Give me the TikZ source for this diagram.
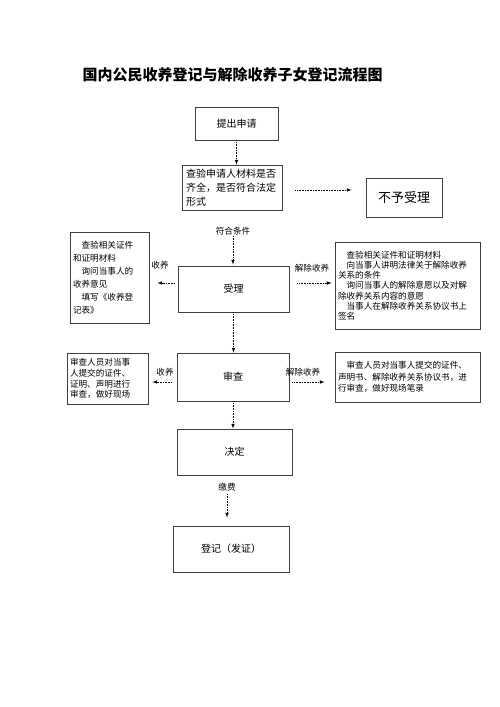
\documentclass[tikz,border=0pt]{standalone}
\usepackage{fontspec}
\newfontfamily\cjk{Noto Sans CJK SC}
\usetikzlibrary{positioning, calc}

\begin{document}
\begin{tikzpicture}[
    x=1pt, y=-1pt,
    % Define a custom style for the boxes
    mybox/.style={
        draw=black!75,
        line width=0.9pt,
        rectangle,
        font=\cjk\fontsize{10}{12}\selectfont
    },
    notebox/.style={
        mybox,
        align=left,
        inner sep=3pt,
        font=\cjk\fontsize{8.6}{10.2}\selectfont
    },
    tag/.style={font=\cjk\fontsize{8.6}{10}\selectfont, inner sep=1pt},
    flow/.style={densely dotted, line width=0.6pt, ->, >=latex}
]
\useasboundingbox (0,0) rectangle (500,707);

% Title
\node[font=\cjk\bfseries\fontsize{15}{18}\selectfont] (title) at (232.5,75) {国内公民收养登记与解除收养子女登记流程图};

% Main column
\node[mybox, minimum width=83pt, minimum height=33pt] (apply) at (236.5,123.5) {提出申请};
\node[mybox, minimum width=100pt, minimum height=45pt, text width=92pt, align=left,
      font=\cjk\fontsize{10}{14}\selectfont] (check) at (232,187.5)
      {查验申请人材料是否\\齐全，是否符合法定\\形式};
\node[mybox, minimum width=76pt, minimum height=39pt, font=\cjk\fontsize{13}{15}\selectfont] (reject) at (404,197.5) {不予受理};
\node[tag] (cond) at (233,231) {符合条件};
\node[mybox, minimum width=111pt, minimum height=46pt] (accept) at (233.5,289) {受理};
\node[mybox, minimum width=112pt, minimum height=48pt] (review) at (233,377) {审查};
\node[mybox, minimum width=115pt, minimum height=46pt] (decide) at (234.5,452) {决定};
\node[tag] (fee) at (227,487) {缴费};
\node[mybox, minimum width=116pt, minimum height=46pt] (register) at (231,549) {登记（发证）};

% Side boxes
\node[notebox, minimum width=79pt, minimum height=91pt, text width=73pt,
      font=\cjk\fontsize{8.6}{13}\selectfont] (adoptA) at (109.5,277.5)
      {\hspace*{1em}查验相关证件\\和证明材料\\\hspace*{1em}询问当事人的\\收养意见\\\hspace*{1em}填写《收养登\\记表》};
\node[notebox, minimum width=145pt, minimum height=87pt, text width=139pt] (dissolveA) at (407.5,285.5)
      {\hspace*{1em}查验相关证件和证明材料\\\hspace*{1em}向当事人讲明法律关于解除收养\\关系的条件\\\hspace*{1em}询问当事人的解除意愿以及对解\\除收养关系内容的意愿\\\hspace*{1em}当事人在解除收养关系协议书上\\签名};
\node[notebox, minimum width=81pt, minimum height=51pt, text width=75pt,
      font=\cjk\fontsize{8.6}{10.8}\selectfont] (adoptB) at (107.5,378.5)
      {审查人员对当事\\人提交的证件、\\证明、声明进行\\审查，做好现场};
\node[notebox, minimum width=145pt, minimum height=50pt, text width=139pt,
      font=\cjk\fontsize{8.6}{11.5}\selectfont] (dissolveB) at (407.5,377)
      {\hspace*{1em}审查人员对当事人提交的证件、\\声明书、解除收养关系协议书，进\\行审查，做好现场笔录};

% Labels on the side arrows
\node[tag] (lblA) at (160,265) {收养};
\node[tag] (lblB) at (312,268) {解除收养};
\node[tag] (lblC) at (165,372) {收养};
\node[tag] (lblD) at (303,372) {解除收养};

% Connectors
\draw[flow] (apply.south) -- (apply.south |- check.north);
\draw[flow, shorten <=13pt, shorten >=14pt] ([yshift=-2.5pt]check.east) -- ([yshift=-2.5pt]check.east -| reject.west);
\draw[flow, shorten >=1pt] (cond.south) -- (cond.south |- accept.north);
\draw[flow, shorten <=3pt, shorten >=8pt] ([yshift=6pt]accept.west) -- ([yshift=6pt]accept.west -| adoptA.east);
\draw[flow, shorten <=8pt, shorten >=3pt] ([yshift=6pt]accept.east) -- ([yshift=6pt]accept.east -| dissolveA.west);
\draw[flow] (accept.south) -- (accept.south |- review.north);
\draw[flow, shorten <=5pt, shorten >=4pt] ([yshift=-5pt]review.west) -- ([yshift=-5pt]review.west -| adoptB.east);
\draw[flow, shorten <=3pt, shorten >=10pt] ([yshift=-5pt]review.east) -- ([yshift=-5pt]review.east -| dissolveB.west);
\draw[flow] (review.south) -- (review.south |- decide.north);
\draw[flow, shorten <=2pt, shorten >=8pt] (fee.south) -- (fee.south |- register.north);

\end{tikzpicture}
\end{document}
